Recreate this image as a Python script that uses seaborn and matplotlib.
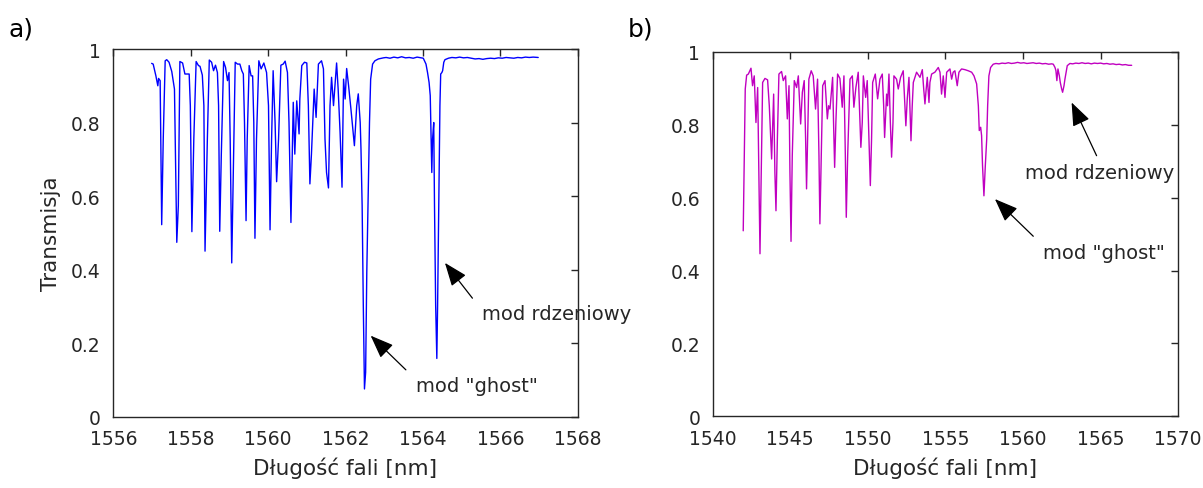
import matplotlib
matplotlib.use('Agg')
import matplotlib.pyplot as plt
import seaborn as sns

# panel a) - blue spectrum
wl_a = [1556.99, 1557.03, 1557.10, 1557.15, 1557.17, 1557.21, 1557.25, 1557.29, 1557.34, 1557.38,
        1557.44, 1557.51, 1557.58, 1557.64, 1557.68, 1557.72, 1557.79, 1557.85, 1557.96, 1557.99,
        1558.03, 1558.08, 1558.14, 1558.20, 1558.24, 1558.30, 1558.34, 1558.37, 1558.43, 1558.48,
        1558.54, 1558.59, 1558.64, 1558.69, 1558.72, 1558.75, 1558.79, 1558.85, 1558.90, 1558.95,
        1558.99, 1559.02, 1559.06, 1559.10, 1559.15, 1559.21, 1559.27, 1559.32, 1559.36, 1559.39,
        1559.43, 1559.46, 1559.51, 1559.56, 1559.60, 1559.63, 1559.66, 1559.70, 1559.76, 1559.82,
        1559.89, 1559.96, 1560.01, 1560.05, 1560.09, 1560.13, 1560.18, 1560.22, 1560.27, 1560.33,
        1560.39, 1560.44, 1560.50, 1560.54, 1560.59, 1560.63, 1560.65, 1560.69, 1560.74, 1560.80,
        1560.82, 1560.87, 1560.94, 1561.00, 1561.04, 1561.08, 1561.12, 1561.19, 1561.24, 1561.30,
        1561.38, 1561.43, 1561.47, 1561.51, 1561.56, 1561.60, 1561.64, 1561.69, 1561.77, 1561.81,
        1561.86, 1561.91, 1561.95, 1561.99, 1562.03, 1562.08, 1562.14, 1562.23, 1562.29, 1562.33,
        1562.38, 1562.40, 1562.43, 1562.46, 1562.49, 1562.52, 1562.55, 1562.59, 1562.62, 1562.65,
        1562.70, 1562.76, 1562.85, 1562.98, 1563.05, 1563.15, 1563.25, 1563.35, 1563.45, 1563.55,
        1563.65, 1563.75, 1563.85, 1563.95, 1564.01, 1564.08, 1564.12, 1564.16, 1564.19, 1564.21,
        1564.23, 1564.25, 1564.28, 1564.30, 1564.33, 1564.36, 1564.38, 1564.42, 1564.44, 1564.46,
        1564.49, 1564.51, 1564.54, 1564.57, 1564.66, 1564.75, 1564.85, 1564.95, 1565.05, 1565.15,
        1565.25, 1565.35, 1565.45, 1565.55, 1565.65, 1565.75, 1565.85, 1565.95, 1566.05, 1566.15,
        1566.25, 1566.35, 1566.45, 1566.55, 1566.65, 1566.75, 1566.85, 1566.98]
tr_a = [0.961, 0.959, 0.927, 0.900, 0.920, 0.914, 0.522, 0.755, 0.968, 0.971,
        0.964, 0.939, 0.891, 0.474, 0.574, 0.966, 0.962, 0.932, 0.932, 0.846,
        0.503, 0.755, 0.966, 0.955, 0.953, 0.929, 0.846, 0.450, 0.755, 0.970,
        0.964, 0.941, 0.956, 0.936, 0.846, 0.504, 0.710, 0.966, 0.950, 0.914,
        0.936, 0.755, 0.418, 0.664, 0.964, 0.959, 0.959, 0.941, 0.932, 0.800,
        0.533, 0.755, 0.955, 0.927, 0.927, 0.800, 0.485, 0.755, 0.968, 0.946,
        0.962, 0.936, 0.846, 0.508, 0.755, 0.941, 0.800, 0.639, 0.755, 0.956,
        0.959, 0.967, 0.936, 0.800, 0.528, 0.755, 0.855, 0.714, 0.859, 0.769,
        0.864, 0.955, 0.964, 0.962, 0.846, 0.633, 0.714, 0.891, 0.814, 0.959,
        0.968, 0.946, 0.755, 0.664, 0.622, 0.846, 0.923, 0.846, 0.962, 0.891,
        0.773, 0.624, 0.918, 0.864, 0.947, 0.900, 0.837, 0.737, 0.846, 0.878,
        0.800, 0.728, 0.574, 0.302, 0.075, 0.120, 0.392, 0.619, 0.800, 0.918,
        0.959, 0.968, 0.973, 0.976, 0.977, 0.975, 0.978, 0.976, 0.979, 0.976,
        0.977, 0.975, 0.978, 0.976, 0.975, 0.959, 0.936, 0.909, 0.873, 0.773,
        0.664, 0.755, 0.800, 0.574, 0.302, 0.158, 0.302, 0.664, 0.846, 0.932,
        0.936, 0.941, 0.964, 0.971, 0.975, 0.977, 0.976, 0.978, 0.976, 0.977,
        0.975, 0.973, 0.974, 0.972, 0.974, 0.975, 0.974, 0.976, 0.975, 0.977,
        0.976, 0.975, 0.977, 0.976, 0.978, 0.977, 0.978, 0.977]

# panel b) - magenta spectrum
wl_b = [1541.97, 1542.04, 1542.10, 1542.19, 1542.30, 1542.40, 1542.47, 1542.57, 1542.68, 1542.79,
        1542.90, 1542.96, 1543.05, 1543.13, 1543.22, 1543.37, 1543.54, 1543.65, 1543.80, 1543.91,
        1543.93, 1544.01, 1544.08, 1544.17, 1544.27, 1544.44, 1544.55, 1544.70, 1544.81, 1544.92,
        1544.98, 1545.05, 1545.13, 1545.26, 1545.41, 1545.52, 1545.67, 1545.78, 1545.90, 1545.99,
        1546.05, 1546.14, 1546.20, 1546.35, 1546.48, 1546.63, 1546.76, 1546.85, 1546.91, 1547.00,
        1547.09, 1547.24, 1547.39, 1547.47, 1547.56, 1547.73, 1547.79, 1547.86, 1547.94, 1548.05,
        1548.20, 1548.35, 1548.46, 1548.55, 1548.61, 1548.70, 1548.85, 1549.00, 1549.10, 1549.23,
        1549.38, 1549.49, 1549.55, 1549.64, 1549.71, 1549.86, 1549.96, 1550.07, 1550.16, 1550.24,
        1550.31, 1550.48, 1550.63, 1550.78, 1550.93, 1551.02, 1551.08, 1551.17, 1551.21, 1551.27,
        1551.36, 1551.45, 1551.53, 1551.62, 1551.68, 1551.85, 1551.96, 1552.11, 1552.28, 1552.39,
        1552.45, 1552.54, 1552.65, 1552.71, 1552.78, 1552.86, 1552.93, 1553.14, 1553.36, 1553.51,
        1553.60, 1553.68, 1553.76, 1553.83, 1553.94, 1554.00, 1554.11, 1554.32, 1554.54, 1554.65,
        1554.75, 1554.86, 1554.97, 1555.08, 1555.29, 1555.40, 1555.50, 1555.61, 1555.76, 1555.87,
        1556.04, 1556.26, 1556.47, 1556.69, 1556.84, 1557.01, 1557.12, 1557.18, 1557.27, 1557.33,
        1557.39, 1557.48, 1557.57, 1557.66, 1557.72, 1557.80, 1557.91, 1558.08, 1558.25, 1558.45,
        1558.65, 1558.85, 1559.05, 1559.25, 1559.45, 1559.65, 1559.85, 1560.05, 1560.25, 1560.45,
        1560.65, 1560.85, 1561.05, 1561.25, 1561.45, 1561.65, 1561.85, 1561.95, 1562.06, 1562.12,
        1562.18, 1562.25, 1562.34, 1562.40, 1562.49, 1562.55, 1562.64, 1562.70, 1562.79, 1562.85,
        1563.02, 1563.20, 1563.40, 1563.60, 1563.80, 1564.00, 1564.20, 1564.40, 1564.60, 1564.80,
        1565.00, 1565.20, 1565.40, 1565.60, 1565.80, 1566.00, 1566.20, 1566.40, 1566.60, 1566.80,
        1567.00]
tr_b = [0.509, 0.715, 0.898, 0.936, 0.939, 0.948, 0.955, 0.907, 0.934, 0.806,
        0.902, 0.715, 0.446, 0.669, 0.916, 0.927, 0.923, 0.852, 0.706, 0.852,
        0.884, 0.669, 0.564, 0.761, 0.939, 0.946, 0.921, 0.934, 0.816, 0.907,
        0.669, 0.480, 0.715, 0.921, 0.902, 0.934, 0.802, 0.889, 0.921, 0.761,
        0.624, 0.806, 0.925, 0.948, 0.934, 0.843, 0.925, 0.715, 0.528, 0.715,
        0.907, 0.921, 0.816, 0.852, 0.843, 0.930, 0.806, 0.683, 0.806, 0.939,
        0.927, 0.848, 0.934, 0.715, 0.546, 0.715, 0.925, 0.934, 0.848, 0.902,
        0.944, 0.806, 0.738, 0.806, 0.934, 0.875, 0.921, 0.761, 0.633, 0.761,
        0.916, 0.939, 0.871, 0.925, 0.939, 0.852, 0.765, 0.852, 0.884, 0.852,
        0.939, 0.806, 0.711, 0.806, 0.934, 0.925, 0.898, 0.930, 0.948, 0.852,
        0.797, 0.871, 0.930, 0.852, 0.756, 0.852, 0.916, 0.944, 0.930, 0.951,
        0.898, 0.857, 0.898, 0.930, 0.861, 0.916, 0.939, 0.944, 0.957, 0.944,
        0.884, 0.934, 0.875, 0.944, 0.953, 0.925, 0.944, 0.948, 0.907, 0.944,
        0.953, 0.951, 0.948, 0.944, 0.934, 0.912, 0.852, 0.784, 0.793, 0.770,
        0.688, 0.605, 0.688, 0.761, 0.852, 0.934, 0.957, 0.966, 0.968, 0.967,
        0.969, 0.968, 0.970, 0.968, 0.969, 0.971, 0.969, 0.970, 0.968, 0.969,
        0.970, 0.968, 0.969, 0.967, 0.968, 0.966, 0.967, 0.966, 0.957, 0.948,
        0.921, 0.953, 0.934, 0.916, 0.898, 0.889, 0.907, 0.925, 0.948, 0.962,
        0.968, 0.967, 0.969, 0.968, 0.970, 0.968, 0.969, 0.967, 0.969, 0.968,
        0.969, 0.967, 0.968, 0.966, 0.967, 0.965, 0.966, 0.964, 0.965, 0.963,
        0.963]

yticks = [0, 0.2, 0.4, 0.6, 0.8, 1]
ytick_labels = ['0', '0.2', '0.4', '0.6', '0.8', '1']
xticks_a = [1556, 1558, 1560, 1562, 1564, 1566, 1568]
xticks_b = [1540, 1545, 1550, 1555, 1560, 1565, 1570]

sns.set_style('white')
plt.rcParams['font.family'] = ['DejaVu Sans']

dark = '#262626'
fig = plt.figure(figsize=(12.03, 4.89), dpi=100)
ax1 = fig.add_axes([0.0942, 0.1462, 0.3860, 0.7515])
ax2 = fig.add_axes([0.5924, 0.1466, 0.3870, 0.7454])

sns.lineplot(x=wl_a, y=tr_a, ax=ax1, color='#0000ff', lw=1.0, sort=False, estimator=None)
sns.lineplot(x=wl_b, y=tr_b, ax=ax2, color='#c000c0', lw=1.0, sort=False, estimator=None)

for ax, xt in [(ax1, xticks_a), (ax2, xticks_b)]:
    ax.set_xlim(xt[0], xt[-1])
    ax.set_ylim(0, 1)
    ax.set_xticks(xt)
    ax.set_xticklabels([str(v) for v in xt])
    ax.set_yticks(yticks)
    ax.set_yticklabels(ytick_labels)
    for s in ax.spines.values():
        s.set_visible(True)
        s.set_color(dark)
        s.set_linewidth(1.0)
    ax.tick_params(direction='in', length=5, width=1, color=dark, labelcolor=dark,
                   labelsize=13.5, pad=9, top=True, right=True)
    ax.set_xlabel('Długość fali [nm]', fontsize=15.5, color=dark, labelpad=6)

ax1.set_ylabel('Transmisja', fontsize=15.5, color=dark, labelpad=7)

arrow = dict(arrowstyle='-|>,head_length=0.9,head_width=0.35', mutation_scale=16,
             lw=0.9, color='k', shrinkA=0, shrinkB=0)

# annotations panel a
ax1.annotate('', xy=(1562.65, 0.220), xytext=(1563.56, 0.127), arrowprops=arrow)
ax1.text(1563.82, 0.084, 'mod "ghost"', fontsize=14, va='center', ha='left')
ax1.annotate('', xy=(1564.57, 0.418), xytext=(1565.28, 0.322), arrowprops=arrow)
ax1.text(1565.52, 0.279, 'mod rdzeniowy', fontsize=14, va='center', ha='left', clip_on=False)

# annotations panel b
ax2.annotate('', xy=(1563.13, 0.861), xytext=(1564.74, 0.715), arrowprops=arrow)
ax2.text(1560.12, 0.669, 'mod rdzeniowy', fontsize=14, va='center', ha='left')
ax2.annotate('', xy=(1558.19, 0.596), xytext=(1560.66, 0.494), arrowprops=arrow)
ax2.text(1561.30, 0.450, 'mod "ghost"', fontsize=14, va='center', ha='left')

fig.text(8 / 1203, 1 - 30 / 489, 'a)', fontsize=18, va='center', ha='left', color='k')
fig.text(628 / 1203, 1 - 30 / 489, 'b)', fontsize=18, va='center', ha='left', color='k')

fig.savefig('out.png', dpi=100)
